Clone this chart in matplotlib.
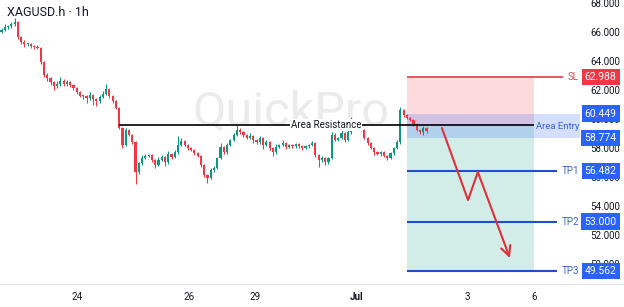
import matplotlib.pyplot as plt
import matplotlib.transforms as mtransforms
import numpy as np

plt.rcParams["font.family"] = ["Roboto", "DejaVu Sans"]

# hourly closes (bar index = hour)
closes = [
    66.21, 66.41, 66.48, 66.62, 66.76, 65.72, 65.40, 65.24, 65.24, 65.10, 65.03, 64.97,
    64.00, 63.10, 62.90, 62.60, 62.34, 62.48, 62.70, 62.48, 62.60, 62.40, 62.20, 61.93,
    61.66, 61.66, 61.50, 61.70, 61.45, 61.30, 61.60, 61.80, 62.14, 61.65, 61.30, 60.83,
    59.45, 58.28, 59.30, 58.97, 58.48, 56.41, 57.03, 57.38, 57.52, 57.59, 57.24, 56.90,
    57.24, 57.45, 57.10, 57.66, 57.45, 57.79, 58.28, 58.55, 58.28, 58.07, 57.93, 57.72,
    57.52, 56.90, 56.20, 56.00, 56.55, 56.69, 57.38, 58.14, 57.79, 58.28, 58.62, 58.97,
    59.31, 59.17, 58.97, 58.76, 58.90, 58.62, 58.48, 58.76, 58.28, 58.48, 58.07, 57.79,
    58.14, 58.28, 58.41, 58.14, 58.28, 58.20, 58.34, 58.20, 58.07, 58.20, 58.28, 58.41,
    57.59, 57.24, 57.38, 57.10, 57.38, 58.97, 58.62, 58.76, 59.10, 58.62, 59.17, 59.86,
    59.50, 59.45, 59.31, 58.76, 58.41, 58.07, 57.79, 57.66, 57.79, 57.52, 57.38, 57.72,
    58.07, 58.48, 60.69, 60.34, 60.14, 60.00, 59.72, 59.31, 59.17, 59.45, 59.24,
]
first_open = 66.10
upper_wick = [
    0.15, 0.20, 0.10, 0.15, 0.25, 0.10, 0.10, 0.15, 0.10, 0.10, 0.10, 0.15,
    0.10, 0.10, 0.15, 0.10, 0.10, 0.20, 0.25, 0.10, 0.15, 0.10, 0.10, 0.10,
    0.10, 0.10, 0.10, 0.20, 0.10, 0.10, 0.15, 0.20, 0.35, 0.10, 0.10, 0.10,
    0.10, 0.10, 0.15, 0.10, 0.10, 0.10, 0.10, 0.20, 0.15, 0.10, 0.10, 0.10,
    0.20, 0.15, 0.10, 0.20, 0.10, 0.15, 0.65, 0.20, 0.10, 0.10, 0.10, 0.10,
    0.10, 0.10, 0.10, 0.10, 0.15, 0.15, 0.10, 0.25, 0.10, 0.15, 0.10, 0.15,
    0.35, 0.15, 0.10, 0.10, 0.20, 0.10, 0.10, 0.15, 0.10, 0.15, 0.10, 0.10,
    0.20, 0.10, 0.20, 0.10, 0.10, 0.10, 0.10, 0.10, 0.10, 0.10, 0.10, 0.15,
    0.10, 0.10, 0.15, 0.10, 0.10, 0.20, 0.15, 0.10, 0.20, 0.10, 0.15, 0.35,
    0.15, 0.10, 0.10, 0.10, 0.10, 0.10, 0.10, 0.10, 0.10, 0.10, 0.10, 0.10,
    0.10, 0.15, 0.20, 0.10, 0.10, 0.10, 0.10, 0.10, 0.10, 0.15, 0.10,
]
lower_wick = [
    0.10, 0.10, 0.15, 0.10, 0.10, 0.15, 0.15, 0.20, 0.15, 0.10, 0.15, 0.10,
    0.15, 0.15, 0.20, 0.15, 0.25, 0.10, 0.10, 0.15, 0.10, 0.15, 0.10, 0.15,
    0.10, 0.20, 0.35, 0.10, 0.40, 0.30, 0.10, 0.10, 0.10, 0.15, 0.10, 0.10,
    0.10, 0.20, 0.10, 0.10, 0.10, 0.80, 0.15, 0.10, 0.10, 0.10, 0.15, 0.20,
    0.10, 0.10, 0.25, 0.10, 0.15, 0.10, 0.10, 0.10, 0.10, 0.15, 0.10, 0.10,
    0.10, 0.15, 0.15, 0.35, 0.10, 0.10, 0.10, 0.10, 0.15, 0.10, 0.10, 0.10,
    0.10, 0.10, 0.15, 0.10, 0.10, 0.20, 0.15, 0.10, 0.25, 0.10, 0.15, 0.30,
    0.10, 0.10, 0.10, 0.15, 0.10, 0.10, 0.10, 0.10, 0.15, 0.10, 0.10, 0.10,
    0.15, 0.50, 0.15, 0.20, 0.15, 0.10, 0.10, 0.10, 0.10, 0.15, 0.10, 0.10,
    0.10, 0.10, 0.10, 0.10, 0.15, 0.10, 0.20, 0.10, 0.15, 0.10, 0.15, 0.10,
    0.10, 0.10, 0.10, 0.10, 0.10, 0.10, 0.15, 0.10, 0.10, 0.20, 0.10,
]

# date ticks (bar positions) and price ticks
date_ticks = [23.1, 57.3, 77.5, 108.7, 142.6, 162.8]
date_labels = ["24", "26", "29", "Jul", "3", "6"]
price_ticks = [68, 66, 64, 62, 60, 58, 56, 54, 52, 50]

# trade setup
resistance = 59.66
entry_price = 59.62
entry_high = 60.449
entry_low = 58.774
stop_loss = 62.988
take_profits = [56.482, 53.000, 49.562]
tp_names = ["TP1", "TP2", "TP3"]
box_start, box_end, band_end = 124, 163, 177
resistance_start = 36
path_x = [134.7, 142.7, 145.7, 155.5]
path_y = [59.45, 54.48, 56.41, 50.48]

UP, DOWN = "#089981", "#f23645"
BLUE = "#2962ff"
TP_LINE = "#1f4fd1"
SL_LINE = "#e34a55"

fig = plt.figure(figsize=(6.24, 3.07), dpi=100)
ax = fig.add_axes([0, 23 / 307, 1, 284 / 307])
ax.set_xlim(-0.46, 190.4)
ax.set_ylim(48.69, 68.28)

closes = np.array(closes)
opens = np.concatenate([[first_open], closes[:-1]])
idx = np.arange(len(closes))
highs = np.maximum(opens, closes) + np.array(upper_wick)
lows = np.minimum(opens, closes) - np.array(lower_wick)
colors = np.where(closes >= opens, UP, DOWN)

ax.vlines(idx, lows, highs, colors=colors, linewidth=0.75, zorder=3)
body = np.maximum(np.abs(closes - opens), 0.04)
ax.bar(idx, body, bottom=np.minimum(opens, closes), width=0.66, color=colors, zorder=3)

# watermark
ax.text(88.5, 60.48, "QuickPro", fontsize=35, color="#ebebeb", ha="center", va="center", zorder=0)

# position zones
ax.fill_between([box_start, box_end], entry_price, stop_loss, color=DOWN, alpha=0.18, lw=0, zorder=1)
ax.fill_between([box_start, box_end], take_profits[-1], entry_price, color=UP, alpha=0.18, lw=0, zorder=1)
ax.fill_between([box_start, band_end], entry_low, entry_high, color=BLUE, alpha=0.2, lw=0, zorder=2)

# resistance line with label
ax.hlines(resistance, resistance_start, box_end, color="black", lw=1.2, zorder=4)
ax.text(99.2, resistance, "Area Resistance", fontsize=7, color="#131722", ha="center", va="center",
        zorder=5, bbox=dict(boxstyle="square,pad=0.1", fc="white", ec="none"))
ax.text(band_end - 0.3, (entry_low + entry_high) / 2 - 0.04, "Area Entry", fontsize=6.8, color="#3a66d8",
        ha="right", va="center", zorder=5)

# SL / TP lines
ax.hlines(stop_loss, box_start, 171.7, color=SL_LINE, lw=1.3, zorder=4)
ax.text(176.6, stop_loss, "SL", fontsize=7, color=SL_LINE, ha="right", va="center", zorder=5)
for tp, name in zip(take_profits, tp_names):
    ax.hlines(tp, box_start, 170.0, color=TP_LINE, lw=1.5, zorder=4)
    ax.text(176.6, tp, name, fontsize=7, color="#3a66d8", ha="right", va="center", zorder=5)

# projected path
ax.plot(path_x[:3], path_y[:3], color="#e0303a", lw=1.5, zorder=6, solid_capstyle="round")
ax.annotate("", xy=(path_x[3], path_y[3]), xytext=(path_x[2], path_y[2]),
            arrowprops=dict(arrowstyle="->,head_length=0.7,head_width=0.35", color="#e0303a",
                            lw=1.5, shrinkA=0, shrinkB=0), zorder=6)

# price scale on the right
trans = mtransforms.blended_transform_factory(ax.transAxes, ax.transData)
for p in price_ticks:
    ax.text(0.994, p, f"{p:.3f}", transform=trans, fontsize=7, color="#131722",
            ha="right", va="center", zorder=5)

tags = [(stop_loss, DOWN)] + [(entry_high, BLUE), (entry_low, BLUE)] + [(tp, BLUE) for tp in take_profits]
for price, col in tags:
    ax.text(0.988, price, f"{price:.3f}", transform=trans, fontsize=7.5, color="white",
            ha="right", va="center", zorder=7,
            bbox=dict(boxstyle="square,pad=0.3", fc=col, ec="none"))

# title
fig.text(7 / 624, 1 - 13 / 307, "XAGUSD.h · 1h", fontsize=9, color="#131722", ha="left", va="center")

for side in ["top", "left", "right"]:
    ax.spines[side].set_visible(False)
ax.spines["bottom"].set_color("#e0e3eb")
ax.set_yticks([])
ax.set_xticks(date_ticks, date_labels)
ax.tick_params(axis="x", length=0, pad=6, labelsize=7, labelcolor="#131722")
ax.get_xticklabels()[3].set_fontweight("bold")

fig.savefig("out.png", dpi=100)
